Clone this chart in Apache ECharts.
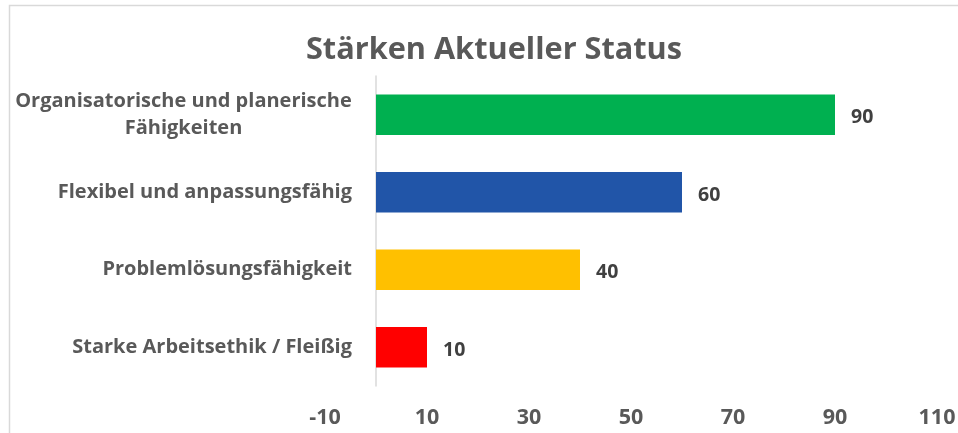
<!DOCTYPE html>
<html>
<head>
<meta charset="utf-8">
<script src="https://cdn.jsdelivr.net/npm/echarts@6/dist/echarts.min.js"></script>
<style>
  html, body { margin: 0; padding: 0; background: #fff; }
  #chart { width: 958px; height: 433px; }
</style>
</head>
<body>
<div id="chart"></div>
<script>
// Werte von oben nach unten
var categories = ['Organisatorische und planerische\nFähigkeiten', 'Flexibel und anpassungsfähig', 'Problemlösungsfähigkeit', 'Starke Arbeitsethik / Fleißig'];
var values = [90, 60, 40, 10];
var barColors = ['#00B050', '#2155A8', '#FFC000', '#FF0000'];
var xTicks = [-10, 10, 30, 50, 70, 90, 110];

var fontFam = '"Open Sans", "Noto Sans", sans-serif';

var chart = echarts.init(document.getElementById('chart'));
var option = {
  backgroundColor: '#fff',
  animation: false,
  graphic: [{
    type: 'rect',
    shape: { x: 9.5, y: 5.5, width: 1000, height: 500 },
    style: { fill: 'none', stroke: '#d9d9d9', lineWidth: 1.5 },
    silent: true
  }],
  title: {
    text: 'Stärken Aktueller Status',
    left: 489,
    textAlign: 'center',
    top: 30,
    textStyle: { fontFamily: fontFam, fontSize: 30.7, fontWeight: 'bold', color: '#595959' }
  },
  grid: { left: 325, right: 21, top: 76, bottom: 47, containLabel: false, outerBoundsMode: 'none' },
  xAxis: {
    type: 'value',
    min: xTicks[0],
    max: xTicks[xTicks.length - 1],
    interval: 20,
    axisLine: { show: false },
    axisTick: { show: false },
    splitLine: { show: false },
    axisLabel: {
      margin: 21,
      fontFamily: fontFam, fontSize: 21.5, fontWeight: 'bold', color: '#595959'
    }
  },
  yAxis: {
    type: 'category',
    inverse: true,
    data: categories,
    axisLine: { onZero: true, lineStyle: { color: '#d9d9d9', width: 1.5 } },
    axisTick: { show: false },
    axisLabel: {
      // Beschriftung sitzt links der Null-Linie, nicht am Gitterrand
      margin: -27,
      fontFamily: fontFam, fontSize: 20, fontWeight: 'bold', color: '#595959',
      lineHeight: 27,
      formatter: function (v) {
        if (v.indexOf('\n') >= 0) {
          return v.split('\n').map(function (s) { return '{c|' + s + '}'; }).join('\n');
        }
        return v;
      },
      rich: {
        c: { width: 337, align: 'center', fontFamily: fontFam, fontSize: 20, fontWeight: 'bold', color: '#595959', lineHeight: 27 }
      }
    }
  },
  series: [{
    type: 'bar',
    barWidth: '52%',
    data: values.map(function (v, i) {
      return { value: v, itemStyle: { color: barColors[i] } };
    }),
    label: {
      show: true,
      position: 'right',
      distance: 16,
      offset: [0, 3],
      fontFamily: fontFam, fontSize: 19.5, fontWeight: 'bold', color: '#404040'
    }
  }]
};
chart.setOption(option);
</script>
</body>
</html>
